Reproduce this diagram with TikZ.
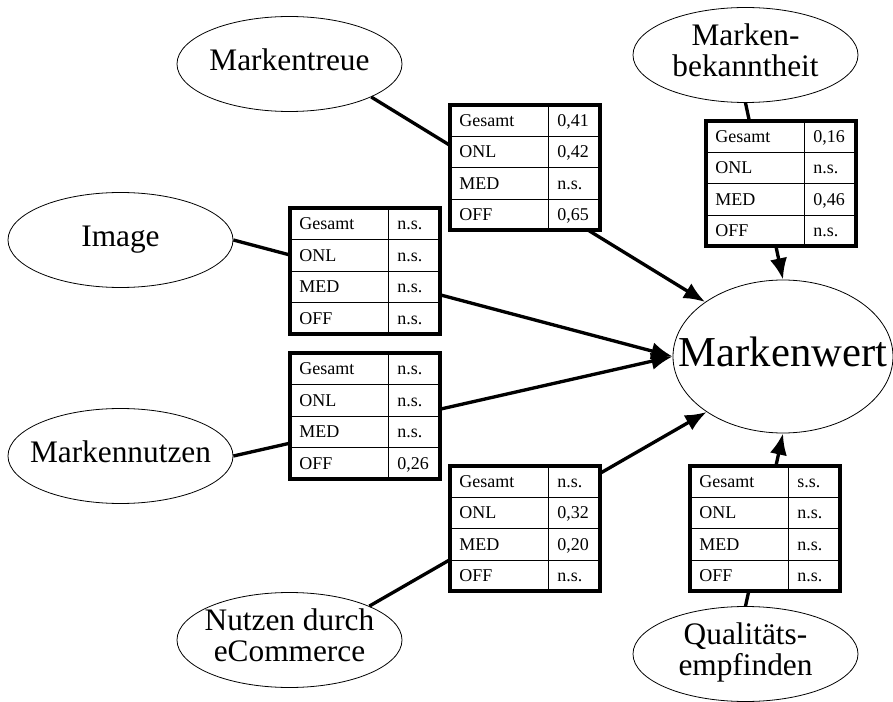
\documentclass[tikz,border=0pt]{standalone}
\usepackage{fontspec}
\setmainfont{Liberation Serif}
\usetikzlibrary{shapes.geometric,arrows.meta}

\newcommand{\etext}[1]{\makebox[0pt]{\begin{tabular}{@{}c@{}}#1\end{tabular}}}
\newcommand{\koeff}[4]{{\fontsize{13.5}{16}\selectfont
  \renewcommand{\arraystretch}{1.44}\setlength{\tabcolsep}{7pt}\setlength{\arrayrulewidth}{0.6pt}%
  \begin{tabular}{p{59.6pt}|p{25pt}}
  Gesamt & #1\\\hline ONL & #2\\\hline MED & #3\\\hline OFF & #4
  \end{tabular}}}

\begin{document}
\begin{tikzpicture}[x=0.75pt,y=-0.75pt,
  konstrukt/.style={ellipse,draw,line width=0.6pt,minimum width=168.75pt,minimum height=71.25pt,inner sep=0pt,font=\fontsize{23.5}{23}\selectfont},
  tafel/.style={draw,fill=white,line width=2.8pt,inner sep=0pt},
  pfad/.style={line width=2.5pt,-{Latex[length=16pt,width=13pt]}}]
\useasboundingbox (0,0) rectangle (893,702);
% Konstrukte
\foreach \name/\x/\y/\txt in {treue/289.5/64/Markentreue, image/120.5/240/Image, nutzen/120.5/456/Markennutzen, ecom/289.5/640/{Nutzen durch\\eCommerce}, bekannt/745.5/55/{Marken-\\bekanntheit}, quali/745.5/654/{Qualitäts-\\empfinden}}
  {\node [konstrukt] (\name) at (\x,\y) {\etext{\txt}};}
\node [konstrukt,minimum width=165pt,minimum height=114.75pt,font=\fontsize{32}{36}\selectfont] (wert) at (783,356.5) {\etext{Markenwert}};
% Pfade
\draw [pfad] (treue.-22) -- (wert.145);
\draw [pfad] (image.east) -- (wert.west);
\draw [pfad] (nutzen.east) -- (wert.west);
\draw [pfad] (ecom.23) -- (wert.216);
\draw [pfad] (bekannt.south) -- (wert.north);
\draw [pfad] (quali.north) -- (wert.south);
% Koeffizienten
\foreach \name/\x/\y/\g/\o/\m/\f in {kTreue/525/167.5/{0,41}/{0,42}/n.s./{0,65}, kImage/365/271/n.s./n.s./n.s./n.s., kNutzen/365/416/n.s./n.s./n.s./{0,26}, kEcom/525/528.5/n.s./{0,32}/{0,20}/n.s., kBekannt/781/183.5/{0,16}/n.s./{0,46}/n.s., kQuali/765/528.5/s.s./n.s./n.s./n.s.}
  {\node [tafel] (\name) at (\x,\y) {\koeff{\g}{\o}{\m}{\f}};}
\end{tikzpicture}
\end{document}
